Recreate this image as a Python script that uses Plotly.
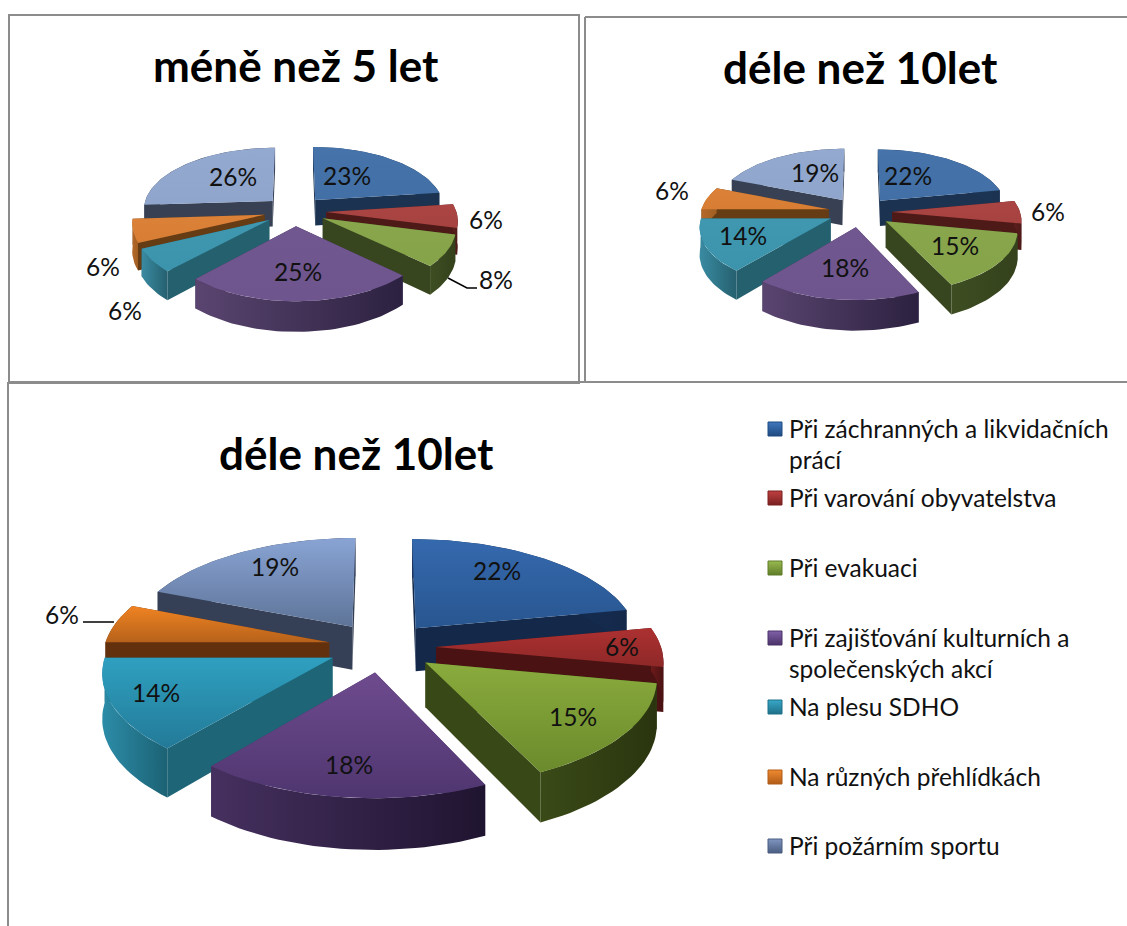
import math
import plotly.graph_objects as go

categories = ["Při záchranných a likvidačních\nprácí", "Při varování obyvatelstva", "Při evakuaci",
              "Při zajišťování kulturních a\nspolečenských akcí", "Na plesu SDHO",
              "Na různých přehlídkách", "Při požárním sportu"]
values_under5 = [23, 6, 8, 25, 6, 6, 26]
values_over10_small = [22, 6, 15, 18, 14, 6, 19]
values_over10_large = [22, 6, 15, 18, 14, 6, 19]
titles = ["méně než 5 let", "déle než 10let", "déle než 10let"]

FONT = "Lato, Carlito, Calibri, sans-serif"
W, H_PAGE = 1127, 926

# (top colour a, top colour b, radial wall, outer wall light, outer wall dark)
PAL_SOFT = [("#4674aa", "#4270a6", "#1b3250", "#22406a", "#1b3250"),
            ("#aa4543", "#a64240", "#4e1a18", "#5c1f1d", "#4e1a18"),
            ("#89a64c", "#85a348", "#384620", "#3e4e22", "#34411c"),
            ("#71578f", "#6f558d", "#3a2c50", "#5a4570", "#2c2140"),
            ("#3f98b0", "#3b94ac", "#25606f", "#3a8ba2", "#25606f"),
            ("#dc8238", "#d87e34", "#663c14", "#b5692a", "#a05e22"),
            ("#93a9d0", "#8fa5cc", "#384154", "#384154", "#384154")]
PAL_RICH = [("#3569ae", "#285690", "#14294a", "#1a3560", "#14294a"),
            ("#ad3131", "#8e2828", "#4a1212", "#6e1a1a", "#4a1212"),
            ("#8aab3d", "#6b8a2c", "#384816", "#3a4a17", "#2a350f"),
            ("#6e4b8e", "#4f3670", "#44305e", "#46305f", "#1f1430"),
            ("#2fa0c0", "#237a98", "#1d6577", "#2c8ca8", "#1c6274"),
            ("#f08322", "#b6621b", "#63300d", "#63300d", "#63300d"),
            ("#89a4d4", "#5e7498", "#353f55", "#353f55", "#353f55")]

charts = [
    dict(values=values_under5, rect=(9, 15, 579, 382), cx=295, cy=211, rx=130, k=62, h=26, p=0.12, e=0.24,
         pal=PAL_SOFT, tpos=(296, 65), tsize=44, fs=24.5,
         labels=[(347, 179), (486, 223), (496, 283), (298, 275), (125, 314), (103, 270), (233, 180)]),
    dict(values=values_over10_small, rect=(585, 17, 1127, 382), cx=860, cy=212, rx=128, k=60, h=26, p=0.12, e=0.25,
         pal=PAL_SOFT, tpos=(861, 67), tsize=44, fs=24.5,
         labels=[(908, 179), (1048, 215), (955, 249), (845, 271), (743, 239), (672, 194), (815, 176)]),
    dict(values=values_over10_large, rect=(8, 382, 1127, 926), cx=382, cy=647, rx=225, k=104, h=44, p=0.12, e=0.24,
         pal=PAL_RICH, tpos=(356, 453), tsize=44, fs=24.5,
         labels=[(497, 574), (622, 650), (573, 720), (349, 768), (156, 696), (62, 618), (275, 570)]),
]

fig = go.Figure()
annotations = []
layout_axes = {}


def add_poly(xs, ys, c1, c2, kind, xa, ya):
    if kind == "vertical":
        start, stop = min(ys), max(ys)
    else:
        start, stop = min(xs), max(xs)
    fig.add_trace(go.Scatter(
        x=xs + xs[:1], y=ys + ys[:1], mode="lines", fill="toself", line=dict(width=0),
        fillgradient=dict(type=kind, colorscale=[[0, c1], [1, c2]], start=start, stop=stop),
        hoverinfo="skip", showlegend=False, xaxis=xa, yaxis=ya))


for idx, ch in enumerate(charts):
    n = idx + 1
    xa, ya = f"x{n if n > 1 else ''}", f"y{n if n > 1 else ''}"
    x0, y0, x1, y1 = ch["rect"]
    layout_axes[f"xaxis{n if n > 1 else ''}"] = dict(domain=[x0 / W, x1 / W], range=[x0, x1], visible=False, fixedrange=True)
    layout_axes[f"yaxis{n if n > 1 else ''}"] = dict(domain=[1 - y1 / H_PAGE, 1 - y0 / H_PAGE], range=[y1, y0], visible=False, fixedrange=True)

    def proj(u, v, z):
        s = 1 / (1 - ch["p"] * v)
        return ch["cx"] + ch["rx"] * u * s, ch["cy"] + ch["k"] * v * s + ch["h"] * z * s

    vals = ch["values"]
    total = sum(vals)
    cum = 0
    slices = []
    for i, v in enumerate(vals):
        a1 = cum / total * 360
        cum += v
        a2 = cum / total * 360
        mid = math.radians((a1 + a2) / 2)
        slices.append((-math.cos(mid), i, a1, a2, ch["e"] * math.sin(mid), -ch["e"] * math.cos(mid)))
    for _, i, a1, a2, ou, ov in sorted(slices):
        pal = ch["pal"][i]
        steps = max(6, int((a2 - a1) / 2))
        angs = [math.radians(a1 + (a2 - a1) * t / steps) for t in range(steps + 1)]
        rim = [(ou + math.sin(a), ov - math.cos(a)) for a in angs]
        # radial walls
        for (u, v) in (rim[0], rim[-1]):
            pts = [proj(ou, ov, 0), proj(u, v, 0), proj(u, v, 1), proj(ou, ov, 1)]
            add_poly([p[0] for p in pts], [p[1] for p in pts], pal[2], pal[2], "horizontal", xa, ya)
        # outer wall
        top = [proj(u, v, 0) for u, v in rim]
        bot = [proj(u, v, 1) for u, v in rim]
        pts = top + bot[::-1]
        add_poly([p[0] for p in pts], [p[1] for p in pts], pal[3], pal[4], "horizontal", xa, ya)
        # top surface
        pts = [proj(ou, ov, 0)] + top
        add_poly([p[0] for p in pts], [p[1] for p in pts], pal[0], pal[1], "vertical", xa, ya)

    # percentage labels
    fig.add_trace(go.Scatter(
        x=[p[0] for p in ch["labels"]], y=[p[1] for p in ch["labels"]], mode="text",
        text=[f"{v}%" for v in vals], textposition="middle center",
        textfont=dict(family=FONT, size=ch["fs"], color="#111111"),
        hoverinfo="skip", showlegend=False, xaxis=xa, yaxis=ya))
    annotations.append(dict(x=ch["tpos"][0], y=ch["tpos"][1], xref=xa, yref=ya, text=f"<b>{titles[idx]}</b>",
                            showarrow=False, font=dict(family=FONT, size=ch["tsize"], color="#000000")))

# legend, drawn in the large chart's axes
LEG_Y = [429, 498, 568, 638, 707, 777, 846]
LEG_C = [("#3f77bd", "#1f4a80"), ("#c04040", "#7a2020"), ("#9aba50", "#5f7d28"), ("#8060a8", "#4a3268"),
         ("#38a8c8", "#1f7088"), ("#f08a30", "#b05c18"), ("#7f96c0", "#4a5c80")]
for c, y, (c1, c2) in zip(categories, LEG_Y, LEG_C):
    fig.add_trace(go.Scatter(
        x=[775], y=[y], mode="markers", xaxis="x3", yaxis="y3", hoverinfo="skip", showlegend=False,
        marker=dict(symbol="square", size=14, color=c1, line=dict(width=1, color=c2),
                    gradient=dict(type="vertical", color=c2))))
    for j, line in enumerate(c.split("\n")):
        annotations.append(dict(x=787, y=y - 1 + j * 31.5, xref="x3", yref="y3", text=line, showarrow=False,
                                xanchor="left", yanchor="middle",
                                font=dict(family=FONT, size=24.5, color="#111111")))

# leader lines
fig.add_trace(go.Scatter(x=[448, 467, 477], y=[278, 288, 288], mode="lines", line=dict(color="#000000", width=1.5),
                         hoverinfo="skip", showlegend=False, xaxis="x", yaxis="y"))
fig.add_trace(go.Scatter(x=[83, 114], y=[622, 622], mode="lines", line=dict(color="#000000", width=1.5),
                         hoverinfo="skip", showlegend=False, xaxis="x3", yaxis="y3"))


def paper_line(xa, ya, xb, yb):
    return dict(type="line", xref="paper", yref="paper", x0=xa / W, x1=xb / W, y0=1 - ya / H_PAGE, y1=1 - yb / H_PAGE,
                line=dict(color="#8c8c8c", width=2))


shapes = [
    dict(type="rect", xref="paper", yref="paper", x0=9 / W, x1=579 / W, y0=1 - 383 / H_PAGE, y1=1 - 15 / H_PAGE,
         line=dict(color="#8c8c8c", width=2)),
    paper_line(585, 17, 1127, 17), paper_line(585, 17, 585, 383),
    paper_line(8, 382, 1127, 382), paper_line(8, 382, 8, 926),
]

fig.update_layout(width=W, height=H_PAGE, margin=dict(l=0, r=0, t=0, b=0), paper_bgcolor="white",
                  plot_bgcolor="white", showlegend=False, shapes=shapes, annotations=annotations, **layout_axes)
fig.write_html("out.html", config=dict(displayModeBar=False),
               post_script="document.body.style.margin='0';document.documentElement.style.overflow='hidden';")
